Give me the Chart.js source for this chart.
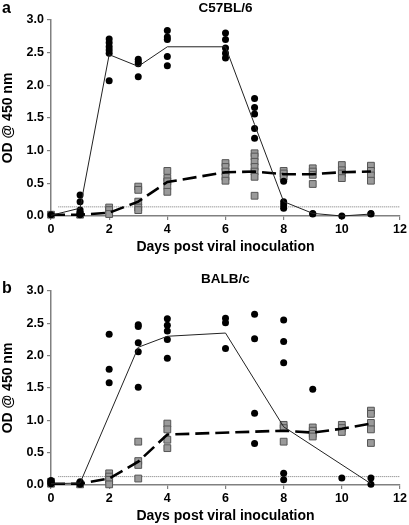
<!DOCTYPE html>
<html><head><meta charset="utf-8">
<script src="https://cdn.jsdelivr.net/npm/chart.js@4/dist/chart.umd.min.js"></script>
<style>
html,body{margin:0;padding:0;background:#fff;width:409px;height:525px;overflow:hidden}
#pa{position:absolute;left:0;top:0;width:409px;height:262px}
#pb{position:absolute;left:0;top:262px;width:409px;height:263px}
canvas{display:block}
</style></head><body>
<div id="pa"><canvas id="ca" width="409" height="262"></canvas></div>
<div id="pb"><canvas id="cb" width="409" height="263"></canvas></div>
<script>
// ---- Data ----
const xTickValues = [0, 2, 4, 6, 8, 10, 12];
const yTickLabels = ['0.0', '0.5', '1.0', '1.5', '2.0', '2.5', '3.0'];

// Panel a: C57BL/6
const c57Days = [0, 1, 2, 3, 4, 6, 7, 8, 9, 10, 11];
const c57Circles = [
  [0.02],
  [0.32, 0.22, 0.09, 0.04, 0.02],
  [2.71, 2.65, 2.59, 2.54, 2.49, 2.07],
  [2.40, 2.36, 2.33, 2.13],
  [2.84, 2.74, 2.70, 2.44, 2.30],
  [2.80, 2.70, 2.57, 2.49, 2.42],
  [1.80, 1.66, 1.56, 1.34, 1.19],
  [0.53, 0.22, 0.17, 0.12],
  [0.04, 0.03],
  [0.00],
  [0.04, 0.03]
];
const c57Squares = [
  [0.02],
  [0.02],
  [0.13, 0.09, 0.03],
  [0.45, 0.40, 0.22, 0.13, 0.09],
  [0.69, 0.58, 0.53, 0.46, 0.37],
  [0.81, 0.75, 0.68, 0.60, 0.54],
  [0.96, 0.91, 0.83, 0.75, 0.68, 0.60, 0.31],
  [0.69, 0.65, 0.60],
  [0.73, 0.68, 0.63, 0.49],
  [0.78, 0.70, 0.65, 0.58],
  [0.77, 0.69, 0.62, 0.54]
];
const c57SolidMean  = [0.01, 0.12, 2.47, 2.29, 2.59, 2.59, 1.40, 0.22, 0.04, 0.00, 0.03];
const c57DashedMean = [0.02, 0.02, 0.05, 0.22, 0.52, 0.67, 0.68, 0.64, 0.64, 0.67, 0.68];
const c57Cutoff = 0.14;

// Panel b: BALB/c
const balbCircleDays = [0, 1, 2, 3, 4, 6, 7, 8, 9, 10, 11];
const balbCircles = [
  [0.07, 0.05, 0.03, 0.02],
  [0.05, 0.01],
  [2.33, 1.79, 1.58],
  [2.48, 2.45, 2.20, 2.06, 1.51],
  [2.57, 2.47, 2.38, 2.25, 1.96],
  [2.58, 2.51, 2.11],
  [2.64, 2.26, 1.11, 0.64],
  [2.55, 2.22, 1.89, 0.18, 0.08],
  [1.48],
  [0.11],
  [0.11, 0.01]
];
const balbSquareDays = [0, 1, 2, 3, 4, 8, 9, 10, 11];
const balbSquares = [
  [0.05, 0.02],
  [0.01],
  [0.18, 0.13, 0.08, 0.01],
  [0.67, 0.37, 0.31, 0.10],
  [0.95, 0.86, 0.70, 0.57],
  [0.93, 0.88, 0.67],
  [0.89, 0.84, 0.79, 0.75],
  [0.93, 0.88, 0.82],
  [1.15, 1.10, 0.96, 0.86, 0.65]
];
const balbSolidDays = [0, 1, 3, 4, 6, 8, 11];
const balbSolidMean = [0.02, 0.03, 2.13, 2.30, 2.35, 0.90, 0.02];
const balbDashedMean = [0.02, 0.02, 0.10, 0.36, 0.78, 0.84, 0.81, 0.87, 0.95];
const balbCutoff = 0.13;

// ---- Helpers ----
Chart.defaults.font.family = "'Liberation Sans', Arial, Helvetica, sans-serif";
Chart.defaults.color = '#000';

function flatten(days, groups) {
  const pts = [];
  days.forEach((d, i) => groups[i].forEach(v => pts.push({x: d, y: v})));
  return pts;
}
function pairs(days, vals) { return days.map((d, i) => ({x: d, y: vals[i]})); }

const panelText = {
  id: 'panelText',
  afterDraw(chart, args, o) {
    const ctx = chart.ctx, ca = chart.chartArea;
    ctx.save();
    ctx.fillStyle = '#000';
    ctx.font = "bold 16px 'Liberation Sans', Arial, sans-serif";
    ctx.textAlign = 'left'; ctx.textBaseline = 'alphabetic';
    ctx.fillText(o.letter, 2, o.letterY);
    ctx.font = "bold 13.5px 'Liberation Sans', Arial, sans-serif";
    ctx.textAlign = 'center'; ctx.textBaseline = 'middle';
    ctx.fillText(o.title, (ca.left + ca.right) / 2, o.titleY);
    ctx.restore();
  }
};

function makeChart(id, cfg) {
  const H = cfg.height;
  const axisY = cfg.axisY;
  const titlePadBottom = H - (axisY + 31.5) - 8.4;
  return new Chart(document.getElementById(id), {
    type: 'scatter',
    data: {
      datasets: [
        { label: 'solid mean', data: cfg.solid, showLine: true, borderColor: '#222', borderWidth: 1,
          pointRadius: 0, fill: false, order: 1, clip: false },
        { label: 'dashed mean', data: cfg.dashed, showLine: true, borderColor: '#000', borderWidth: 2.6,
          borderDash: [14, 6], pointRadius: 0, fill: false, order: 2, clip: false },
        { label: 'cutoff', data: [{x: 0.25, y: cfg.cutoff}, {x: 12, y: cfg.cutoff}], showLine: true,
          borderColor: '#777', borderWidth: 1, borderDash: [1, 1], pointRadius: 0, order: 5, clip: false },
        { label: 'circles', data: cfg.circles, pointStyle: 'circle', pointRadius: 3.5,
          backgroundColor: '#000', borderWidth: 0, order: 3, clip: false },
        { label: 'squares', data: cfg.squares, pointStyle: 'rect', pointRadius: 4.8,
          backgroundColor: '#9a9a9a', borderColor: '#555', borderWidth: 1, order: 4, clip: false }
      ]
    },
    options: {
      responsive: false,
      animation: false,
      events: [],
      layout: { padding: { left: 0, right: 9, top: cfg.areaTop, bottom: 0 } },
      plugins: {
        legend: { display: false },
        tooltip: { enabled: false },
        panelText: { letter: cfg.letter, letterY: cfg.letterY, title: cfg.title, titleY: cfg.titleY }
      },
      scales: {
        x: {
          type: 'linear', min: 0, max: 12,
          afterBuildTicks: s => { s.ticks = xTickValues.map(v => ({value: v})); },
          afterFit: s => { s.height = H - axisY; },
          ticks: { font: { size: 12.5, weight: 'bold' }, color: '#000', padding: 2, maxRotation: 0,
                   callback: v => String(v) },
          grid: { display: true, drawOnChartArea: false, drawTicks: true, tickLength: 4, color: '#808080', lineWidth: 1.2 },
          border: { display: true, color: '#808080', width: 1.5 },
          title: { display: true, text: 'Days post viral inoculation', font: { size: 14, weight: 'bold' },
                   color: '#000', padding: { top: 0, bottom: titlePadBottom } }
        },
        y: {
          type: 'linear', min: 0, max: 3,
          afterBuildTicks: s => { s.ticks = yTickLabels.map(t => ({value: parseFloat(t)})); },
          afterFit: s => { s.width = 51; },
          ticks: { font: { size: 12.5, weight: 'bold' }, color: '#000', padding: 3,
                   callback: (v) => yTickLabels[Math.round(v * 2)] },
          grid: { display: true, drawOnChartArea: false, drawTicks: true, tickLength: 4, color: '#808080', lineWidth: 1.2 },
          border: { display: true, color: '#808080', width: 1.5 },
          title: { display: true, text: 'OD @ 450 nm', font: { size: 14, weight: 'bold' },
                   color: '#000', padding: { top: 0, bottom: 0 } }
        }
      }
    },
    plugins: [panelText]
  });
}

makeChart('ca', {
  height: 262, axisY: 216, areaTop: 20,
  letter: 'a', letterY: 13, title: 'C57BL/6', titleY: 8.5,
  circles: flatten(c57Days, c57Circles),
  squares: flatten(c57Days, c57Squares),
  solid: pairs(c57Days, c57SolidMean),
  dashed: pairs(c57Days, c57DashedMean),
  cutoff: c57Cutoff
});

makeChart('cb', {
  height: 263, axisY: 223, areaTop: 29,
  letter: 'b', letterY: 31, title: 'BALB/c', titleY: 17.5,
  circles: flatten(balbCircleDays, balbCircles),
  squares: flatten(balbSquareDays, balbSquares),
  solid: pairs(balbSolidDays, balbSolidMean),
  dashed: pairs(balbSquareDays, balbDashedMean),
  cutoff: balbCutoff
});
</script>
</body></html>
